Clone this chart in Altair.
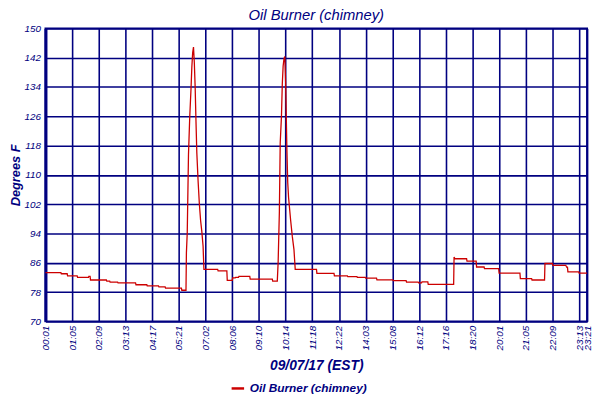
import altair as alt
import pandas as pd

# sample index (one reading per step) and temperature (deg F)
sample_idx = [
    0, 37, 38, 52, 53, 76, 77, 103, 104, 107, 108, 146, 147, 154, 155, 173, 174, 216,
    217, 243, 244, 271, 272, 287, 288, 326, 327, 337,
    338, 340, 343, 346, 349, 351, 353, 355, 357, 359, 361, 363, 366, 369, 372, 375, 378, 380,
    413, 414, 435, 436, 448, 449, 455, 456, 463, 464, 490, 491, 544, 545, 556,
    558, 561, 563, 566, 568, 570, 572, 574, 576, 579, 581, 583, 588, 592, 596, 599,
    650, 651, 692, 693, 724, 725, 747, 748, 767, 768, 794, 795, 833, 834, 865, 866,
    894, 895, 902, 903, 905, 917, 918, 979,
    980, 982, 1010, 1011, 1033, 1034, 1052, 1053, 1087, 1088, 1138, 1139, 1166, 1167,
    1197, 1198, 1216, 1217, 1248, 1250, 1252, 1253, 1279, 1280, 1299,
]
temp_f = [
    83.3, 83.3, 83.0, 83.0, 82.4, 82.4, 82.0, 82.0, 82.3, 82.3, 81.3, 81.3, 81.0, 81.0, 80.7, 80.7, 80.5, 80.5,
    80.0, 80.0, 79.7, 79.7, 79.4, 79.4, 79.05, 79.05, 78.5, 78.5,
    88.7, 94.2, 115.6, 125.8, 133.4, 139.3, 143.3, 144.9, 140.6, 133.9, 124.5, 116.0, 108.4, 102.2, 97.6, 94.5, 90.5, 84.2,
    84.2, 83.8, 83.8, 81.2, 81.2, 81.9, 81.9, 82.0, 82.0, 82.3, 82.3, 81.55, 81.55, 81.0, 81.0,
    86.0, 100.0, 118.7, 126.0, 134.8, 139.7, 141.7, 142.3, 135.2, 117.0, 108.0, 103.9, 97.6, 93.2, 89.6, 84.2,
    84.2, 83.1, 83.1, 82.4, 82.4, 82.2, 82.2, 82.0, 82.0, 81.8, 81.8, 81.35, 81.35, 81.1, 81.1, 80.7,
    80.7, 80.5, 80.5, 80.8, 80.8, 80.8, 80.1, 80.1,
    87.6, 87.1, 87.1, 86.45, 86.45, 84.85, 84.85, 84.4, 84.4, 83.2, 83.2, 81.7, 81.7, 81.3,
    81.3, 85.8, 85.8, 85.3, 85.3, 84.8, 84.8, 83.5, 83.5, 83.2, 83.2,
]
series_name = "Oil Burner (chimney)"

tick_pos = [0, 64, 128, 192, 256, 320, 384, 448, 512, 576, 640, 704, 768, 832, 896,
            960, 1024, 1088, 1152, 1216, 1280, 1299]
tick_labels = ["00:01", "01:05", "02:09", "03:13", "04:17", "05:21", "07:02", "08:06",
               "09:10", "10:14", "11:18", "12:22", "14:03", "15:08", "16:12", "17:16",
               "18:20", "20:01", "21:05", "22:09", "23:13", "23:21"]
y_ticks = [70, 78, 86, 94, 102, 110, 118, 126, 134, 142, 150]

df = pd.DataFrame({"idx": sample_idx, "temp": temp_f, "series": series_name})

NAVY = "#000080"
RED = "#cc0000"
FONT = "Liberation Sans"

label_expr = "[" + ",".join("'%s'" % t for t in tick_labels) + "][indexof([" + \
    ",".join(str(p) for p in tick_pos) + "], datum.value)]"

chart = alt.Chart(df).mark_line(strokeWidth=1.3, interpolate="linear").encode(
    x=alt.X("idx:Q",
            scale=alt.Scale(domain=[0, 1299], nice=False, zero=False),
            axis=alt.Axis(values=tick_pos, labelExpr=label_expr, labelAngle=-90,
                          labelAlign="right", labelBaseline="middle", labelPadding=4,
                          labelFont=FONT, labelFontStyle="italic", labelFontSize=10,
                          labelColor=NAVY, ticks=False, domain=False,
                          grid=True, gridColor=NAVY, gridWidth=1.6, gridOpacity=1,
                          title="09/07/17 (EST)", titleFont=FONT, titleFontSize=14,
                          titleFontStyle="italic", titleFontWeight="bold",
                          titleColor=NAVY, titlePadding=9, labelOverlap=False)),
    y=alt.Y("temp:Q",
            scale=alt.Scale(domain=[70, 150], nice=False, zero=False),
            axis=alt.Axis(values=y_ticks, labelFont=FONT, labelFontStyle="italic",
                          labelFontSize=10, labelColor=NAVY, ticks=False, labelPadding=5,
                          domain=True, domainColor=NAVY, domainWidth=3,
                          grid=True, gridColor=NAVY, gridWidth=1.6, gridOpacity=1,
                          title="Degrees F", titleFont=FONT, titleFontSize=13,
                          titleFontStyle="italic", titleFontWeight="bold",
                          titleColor=NAVY, titlePadding=2)),
    color=alt.Color("series:N", scale=alt.Scale(range=[RED]),
                    legend=alt.Legend(title=None, orient="none", legendX=187, legendY=357,
                                      symbolType="stroke", symbolStrokeWidth=2.5,
                                      symbolSize=160, labelFont=FONT,
                                      labelFontStyle="italic", labelFontWeight="bold",
                                      labelFontSize=12, labelColor=NAVY)),
).properties(
    width=549,
    height=297,
    title=alt.TitleParams(text="Oil Burner (chimney)", font=FONT, fontSize=15,
                          fontStyle="italic", fontWeight="normal", color=NAVY,
                          anchor="middle", frame="group", offset=0),
    autosize=alt.AutoSizeParams(type="none"),
    padding={"left": 38, "top": 18, "right": 5, "bottom": 74},
    background="white",
).configure_view(stroke=NAVY, strokeWidth=2)

chart.save("out.html", embed_options={"renderer": "svg", "actions": False})
